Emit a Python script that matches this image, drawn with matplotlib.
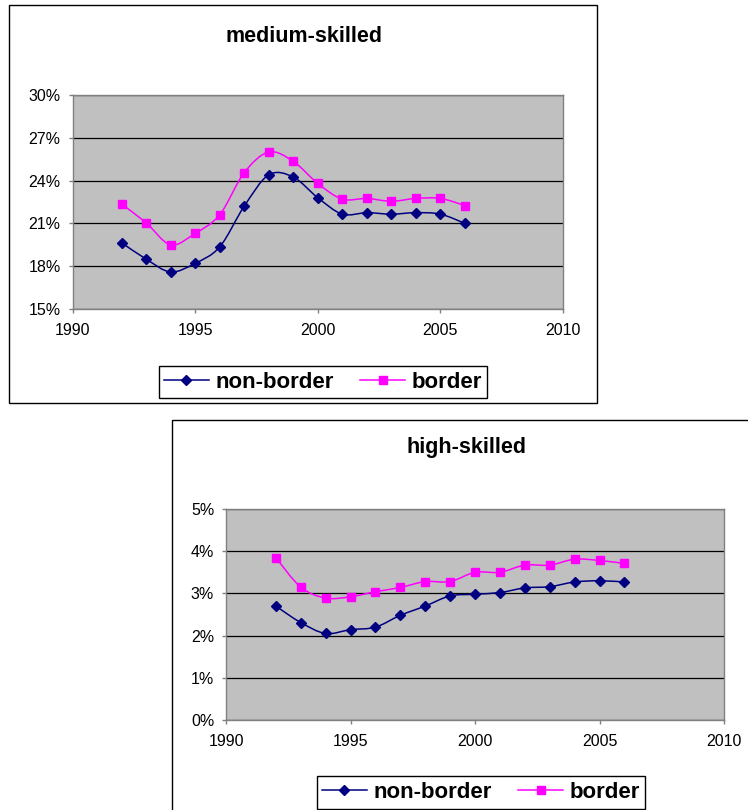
import numpy as np
import matplotlib
matplotlib.use("Agg")
from matplotlib import pyplot as plt
from matplotlib.path import Path
from matplotlib.patches import PathPatch, Rectangle
from matplotlib.lines import Line2D
from matplotlib.ticker import FuncFormatter

# ============================================================================
# DATA (shares, in percent)
# ============================================================================
years = list(range(1992, 2007))
mediumNonBorder = [19.65, 18.5, 17.6, 18.2, 19.35, 22.2, 24.4, 24.25, 22.8, 21.65, 21.75, 21.65, 21.75, 21.65, 21.0]
mediumBorder = [22.35, 21.05, 19.5, 20.3, 21.6, 24.55, 26.0, 25.35, 23.8, 22.7, 22.75, 22.55, 22.75, 22.75, 22.25]
highNonBorder = [2.70, 2.31, 2.05, 2.14, 2.20, 2.48, 2.70, 2.94, 2.98, 3.02, 3.13, 3.16, 3.27, 3.30, 3.27]
highBorder = [3.85, 3.15, 2.89, 2.92, 3.04, 3.14, 3.28, 3.28, 3.50, 3.50, 3.67, 3.67, 3.81, 3.78, 3.71]
seriesNames = ["non-border", "border"]
xTicks = [1990, 1995, 2000, 2005, 2010]
mediumYTicks = [15, 18, 21, 24, 27, 30]
highYTicks = [0, 1, 2, 3, 4, 5]

navy = "#000080"
magenta = "#FF00FF"
W, H = 748, 810

plt.rcParams['font.family'] = ['Liberation Sans', 'DejaVu Sans']


def smoothPath(x, y):
    # Excel style smoothed line: Catmull-Rom segments as cubic Beziers
    pts = np.column_stack([x, y]).astype(float)
    n = len(pts)
    verts = [pts[0]]
    codes = [Path.MOVETO]
    for i in range(n - 1):
        p0 = pts[max(i - 1, 0)]
        p1 = pts[i]
        p2 = pts[i + 1]
        p3 = pts[min(i + 2, n - 1)]
        verts += [p1 + (p2 - p0) / 6, p2 - (p3 - p1) / 6, p2]
        codes += [Path.CURVE4] * 3
    return Path(verts, codes)


def px(x0, y0, x1, y1):
    # pixel box (top-left origin) -> figure fraction rect
    return [x0 / W, 1 - y1 / H, (x1 - x0) / W, (y1 - y0) / H]


def drawChart(rect, title, titlePos, nonBorder, border, yTicks, legendPos):
    ax = fig.add_axes(rect)
    ax.set_facecolor("#C0C0C0")
    ax.set_xlim(xTicks[0], xTicks[-1])
    ax.set_ylim(yTicks[0], yTicks[-1])
    ax.set_xticks(xTicks)
    ax.set_yticks(yTicks)
    ax.yaxis.set_major_formatter(FuncFormatter(lambda v, p: "%d%%" % v))
    ax.grid(axis="y", color="black", lw=0.9)
    ax.set_axisbelow(True)
    for s in ax.spines.values():
        s.set_color("#808080")
        s.set_linewidth(1.0)
    ax.tick_params(axis="both", direction="out", length=3, width=1, color="#808080",
                   labelsize=11.5, labelcolor="black")
    ax.tick_params(axis="y", pad=5.5)
    ax.tick_params(axis="x", pad=7)

    for vals, col, mk, ms in [(nonBorder, navy, "D", 4.8), (border, magenta, "s", 6)]:
        ax.add_patch(PathPatch(smoothPath(years, vals), fill=False, edgecolor=col, lw=1.1, zorder=3))
        ax.plot(years, vals, ls="none", marker=mk, ms=ms, color=col, zorder=4)

    fig.text(titlePos[0] / W, 1 - titlePos[1] / H, title, ha="center", va="center",
             fontsize=15.5, fontweight="bold")

    handles = [Line2D([], [], color=navy, lw=1.1, marker="D", ms=4.8),
               Line2D([], [], color=magenta, lw=1.1, marker="s", ms=6)]
    leg = ax.legend(handles, seriesNames, loc="center", ncol=2,
                    bbox_to_anchor=(legendPos[0] / W, 1 - legendPos[1] / H),
                    bbox_transform=fig.transFigure, frameon=True, fancybox=False,
                    edgecolor="black", framealpha=1, borderpad=0.25,
                    handlelength=2.0, handletextpad=0.3, columnspacing=1.2,
                    prop={"size": 16, "weight": "bold"})
    leg.get_frame().set_linewidth(1.0)
    return ax


fig = plt.figure(figsize=(W / 100, H / 100), dpi=100)

# chart frames
fig.patches.append(Rectangle((9 / W, 1 - 403 / H), (597 - 9) / W, (403 - 5) / H,
                             transform=fig.transFigure, fill=False, edgecolor="black", lw=1.0))
fig.patches.append(Rectangle((172 / W, -0.05), 1.0, (1 - 420 / H) + 0.05,
                             transform=fig.transFigure, fill=False, edgecolor="black", lw=1.0))

drawChart(px(72.5, 95, 563, 309), "medium-skilled", (304, 36),
          mediumNonBorder, mediumBorder, mediumYTicks, (323, 382))
drawChart(px(226, 509, 724, 720), "high-skilled", (466, 448),
          highNonBorder, highBorder, highYTicks, (481, 792.5))

fig.savefig("out.png", dpi=100)
